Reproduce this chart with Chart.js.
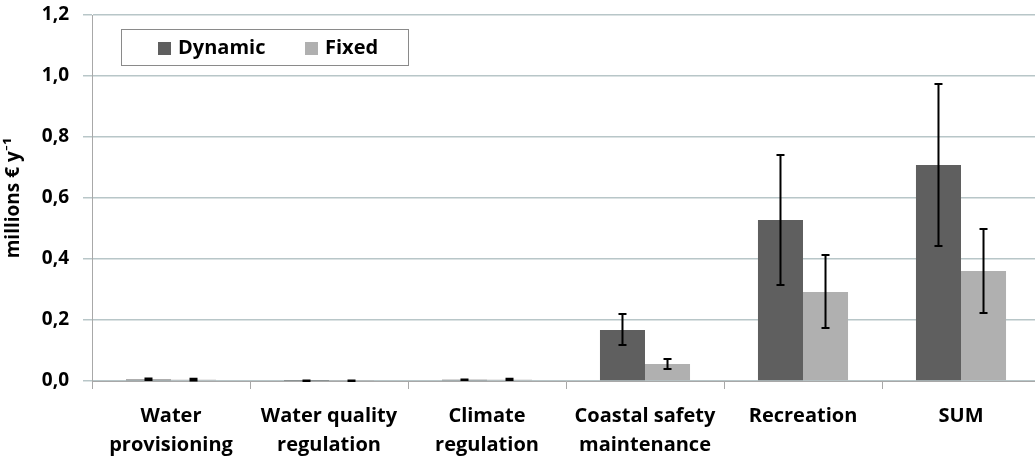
<!DOCTYPE html>
<html>
<head>
<meta charset="utf-8">
<script src="https://cdn.jsdelivr.net/npm/chart.js@4/dist/chart.umd.min.js"></script>
<style>
  html, body { margin: 0; padding: 0; background: #fff; overflow: hidden; }
  #wrap { width: 1035px; height: 459px; overflow: hidden; }
  #wrap div { width: 1045px; height: 459px; }
</style>
</head>
<body>
<div id="wrap"><div><canvas id="es-chart"></canvas></div></div>
<script>
var categories = [
    ["Water", "provisioning"],
    ["Water quality", "regulation"],
    ["Climate", "regulation"],
    ["Coastal safety", "maintenance"],
    ["Recreation"],
    ["SUM"]
];
var dynamicVals  = [0.005, 0.001, 0.004, 0.167, 0.528, 0.708];
var dynamicLow   = [0.003, 0.000, 0.003, 0.118, 0.315, 0.443];
var dynamicHigh  = [0.008, 0.002, 0.005, 0.220, 0.741, 0.974];
var fixedVals    = [0.004, 0.001, 0.004, 0.056, 0.292, 0.361];
var fixedLow     = [0.002, 0.000, 0.003, 0.039, 0.174, 0.223];
var fixedHigh    = [0.007, 0.002, 0.007, 0.072, 0.413, 0.498];
var yTicks = [0, 0.2, 0.4, 0.6, 0.8, 1.0, 1.2];

var font = "'Open Sans', Lato, sans-serif";
var errLow  = [dynamicLow, fixedLow];
var errHigh = [dynamicHigh, fixedHigh];

// error bars, drawn through the y scale
var errorBars = {
    id: "errorBars",
    afterDatasetsDraw(chart) {
        var c = chart.ctx;
        var ys = chart.scales.y;
        c.save();
        c.strokeStyle = "#000";
        c.lineWidth = 2;
        chart.data.datasets.forEach((ds, i) => {
            chart.getDatasetMeta(i).data.forEach((bar, j) => {
                var top = ys.getPixelForValue(errHigh[i][j]);
                var bot = ys.getPixelForValue(errLow[i][j]);
                c.beginPath();
                c.moveTo(bar.x, top); c.lineTo(bar.x, bot);
                c.moveTo(bar.x - 4, top); c.lineTo(bar.x + 4, top);
                c.moveTo(bar.x - 4, bot); c.lineTo(bar.x + 4, bot);
                c.stroke();
            });
        });
        c.restore();
    }
};

// boxed legend inside the plot
var boxLegend = {
    id: "boxLegend",
    afterDraw(chart) {
        var c = chart.ctx;
        c.save();
        c.fillStyle = "#fff";
        c.fillRect(121, 29, 287, 36);
        c.strokeStyle = "#8a8a8a";
        c.lineWidth = 1;
        c.strokeRect(121.5, 29.5, 287, 36);
        c.font = "bold 20px " + font;
        c.textBaseline = "middle";
        var xs = [158, 305];
        chart.data.datasets.forEach((ds, i) => {
            c.fillStyle = ds.backgroundColor;
            c.fillRect(xs[i], 42, 13, 13);
            c.fillStyle = "#000";
            c.fillText(ds.label, xs[i] + 20, 48);
        });
        c.restore();
    }
};

var ctx = document.getElementById("es-chart");
var chart = new Chart(ctx, {
    type: "bar",
    data: {
        labels: categories,
        datasets: [
            { label: "Dynamic", data: dynamicVals, backgroundColor: "#5f5f5f" },
            { label: "Fixed", data: fixedVals, backgroundColor: "#b0b0b0" }
        ]
    },
    plugins: [errorBars, boxLegend],
    options: {
        responsive: true,
        maintainAspectRatio: false,
        animation: false,
        layout: { padding: { top: 0, right: 5, left: 0, bottom: 0 } },
        categoryPercentage: 0.57,
        barPercentage: 1.0,
        plugins: {
            legend: { display: false },
            tooltip: { enabled: false }
        },
        scales: {
            x: {
                grid: { display: true, drawOnChartArea: false, color: "#a8a8a8", tickLength: 8, offset: true },
                border: { color: "#a8a8a8" },
                ticks: { color: "#000", font: { family: font, size: 20, weight: "bold", lineHeight: 1.45 }, maxRotation: 0, padding: 13 },
                afterFit(s) { s.height = 78; s.paddingLeft = 0; s.paddingRight = 0; }
            },
            y: {
                min: 0, max: 1.2,
                afterBuildTicks(s) { s.ticks = yTicks.map(v => ({ value: v })); },
                grid: { color: "#b8c6c8", lineWidth: 1.5, tickLength: 9 },
                border: { color: "#a8a8a8" },
                ticks: {
                    color: "#000", padding: 14,
                    font: { family: font, size: 19, weight: "bold" },
                    callback: v => v.toFixed(1).replace(".", ",")
                },
                title: {
                    display: true, text: "millions € y\u207B\u00B9", color: "#000",
                    font: { family: font, size: 19, weight: "bold" }, padding: 2
                },
                afterFit(s) { s.width = 92; s.paddingTop = 15; s.paddingBottom = 0; }
            }
        }
    }
});
</script>
</body>
</html>
